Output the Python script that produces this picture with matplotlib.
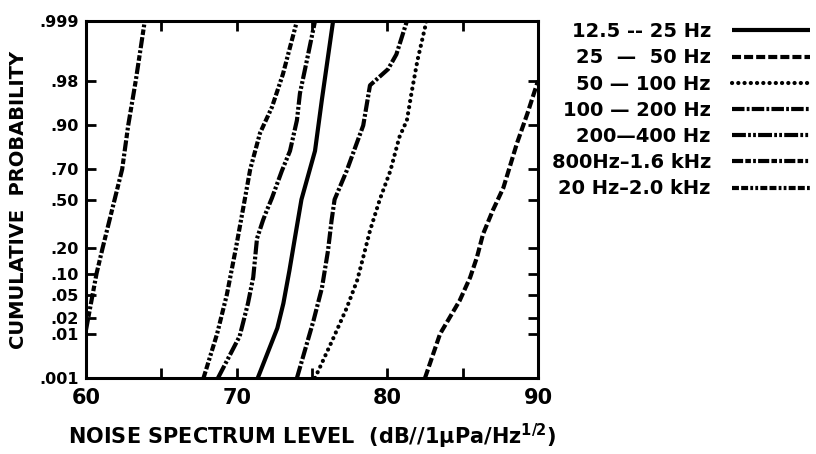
import numpy as np
import matplotlib
matplotlib.use("Agg")
import matplotlib.pyplot as plt
from statistics import NormalDist

# cumulative probability ticks (normal probability paper)
prob_ticks = [0.001, 0.01, 0.02, 0.05, 0.10, 0.20, 0.50, 0.70, 0.90, 0.98, 0.999]
prob_tick_labels = [".001", ".01", ".02", ".05", ".10", ".20", ".50", ".70", ".90", ".98", ".999"]
level_ticks = [60, 70, 80, 90]
level_minor = [65, 75, 85]

# series: noise level (dB) vs cumulative probability
lvl_12_25 = [71.4, 72.7, 73.1, 73.5, 73.87, 74.3, 75.2, 75.65, 76.4]
p_12_25 = [0.001, 0.013, 0.036, 0.109, 0.255, 0.50, 0.80, 0.957, 0.999]

lvl_25_50 = [82.5, 83.5, 84.8, 85.5, 85.95, 86.35, 87.0, 87.7, 88.6, 89.3, 90.0]
p_25_50 = [0.001, 0.01, 0.04, 0.089, 0.159, 0.274, 0.425, 0.58, 0.834, 0.932, 0.98]

lvl_50_100 = [75.2, 76.4, 77.3, 78.0, 78.4, 78.85, 79.5, 80.2, 80.8, 81.3, 81.6, 82.0, 82.6]
p_50_100 = [0.001, 0.008, 0.03, 0.081, 0.159, 0.295, 0.5, 0.69, 0.86, 0.915, 0.967, 0.992, 0.999]

lvl_100_200 = [74.0, 75.1, 75.66, 76.06, 76.3, 76.5, 77.3, 78.4, 78.85, 80.05, 80.6, 81.3]
p_100_200 = [0.001, 0.018, 0.063, 0.187, 0.359, 0.5, 0.69, 0.90, 0.976, 0.988, 0.994, 0.999]

lvl_200_400 = [68.76, 70.2, 70.75, 71.1, 71.35, 71.75, 72.0, 72.34, 73.0, 73.54, 74.0, 74.2, 74.66, 75.2]
p_200_400 = [0.001, 0.009, 0.036, 0.089, 0.25, 0.36, 0.425, 0.51, 0.69, 0.80, 0.915, 0.967, 0.992, 0.999]

lvl_800_1600 = [60.0, 60.7, 61.1, 61.9, 62.4, 62.8, 63.3, 63.9]
p_800_1600 = [0.012, 0.10, 0.20, 0.50, 0.70, 0.90, 0.98, 0.999]

lvl_20_2000 = [67.8, 68.7, 69.35, 69.95, 70.45, 70.9, 71.55, 72.34, 73.07, 74.0]
p_20_2000 = [0.001, 0.01, 0.05, 0.20, 0.45, 0.70, 0.875, 0.945, 0.985, 0.999]

labels = ["12.5 -- 25 Hz", "25  \u2014  50 Hz", "50 \u2014 100 Hz", "100 \u2014 200 Hz",
          "200\u2014400 Hz", "800Hz\u20131.6 kHz", "20 Hz\u20132.0 kHz"]

_nd = NormalDist()


def prob_fwd(p):
    p = np.clip(np.asarray(p, dtype=float), 1e-9, 1 - 1e-9)
    return np.vectorize(_nd.inv_cdf, otypes=[float])(p)


def prob_inv(z):
    return np.vectorize(_nd.cdf, otypes=[float])(np.asarray(z, dtype=float))


plt.rcParams['font.family'] = 'DejaVu Sans'
plt.rcParams['font.weight'] = 'bold'
plt.rcParams['axes.labelweight'] = 'bold'
plt.rcParams['mathtext.default'] = 'bf'
plt.rcParams['lines.scale_dashes'] = False

fig = plt.figure(figsize=(8.16, 4.54), dpi=100)
ax = fig.add_axes([0.1054, 0.1674, 0.5539, 0.7863])
ax.set_yscale('function', functions=(prob_fwd, prob_inv))

lw = 3.0
styles = [
    '-',
    (0, (6.5, 2.2)),
    (0, (0.1, 4.4)),
    (0, (9, 1.6, 2, 1.6)),
    (0, (10, 1.6, 2, 1.6, 2, 1.6)),
    (0, (8, 1.6, 4, 1.6, 2, 1.6)),
    (0, (5, 1.6, 5, 1.6, 2, 1.6, 2, 1.6)),
]
caps = ['butt', 'butt', 'round', 'butt', 'butt', 'butt', 'butt']
series = [(lvl_12_25, p_12_25), (lvl_25_50, p_25_50), (lvl_50_100, p_50_100),
          (lvl_100_200, p_100_200), (lvl_200_400, p_200_400),
          (lvl_800_1600, p_800_1600), (lvl_20_2000, p_20_2000)]

for (xs, ps), ls, cap, lab in zip(series, styles, caps, labels):
    ax.plot(xs, ps, color='black', lw=lw, linestyle=ls, label=lab,
            dash_capstyle=cap, solid_capstyle='butt')

ax.set_xlim(60, 90)
ax.set_ylim(0.001, 0.999)
ax.set_xticks(level_ticks)
ax.set_xticks(level_minor, minor=True)
ax.set_yticks(prob_ticks)
ax.set_yticklabels(prob_tick_labels)
ax.yaxis.set_minor_locator(matplotlib.ticker.NullLocator())
ax.tick_params(axis='both', which='both', direction='in', top=True, right=True,
               length=7, width=2)
ax.tick_params(axis='x', pad=7, labelsize=15)
ax.tick_params(axis='y', pad=5, labelsize=11.5)
for s in ax.spines.values():
    s.set_linewidth(2.2)

ax.set_xlabel("NOISE SPECTRUM LEVEL  (dB//1\u03bcPa/Hz$^{1/2}$)", fontsize=15, labelpad=10)
ax.set_ylabel("CUMULATIVE  PROBABILITY", fontsize=14, labelpad=8)

leg = ax.legend(loc='upper left', bbox_to_anchor=(0.676, 0.951), bbox_transform=fig.transFigure,
                frameon=False, markerfirst=False, fontsize=14, handlelength=4.0,
                handletextpad=1.1, labelspacing=0.37, borderpad=0, borderaxespad=0)

fig.savefig("out.png", dpi=100)
